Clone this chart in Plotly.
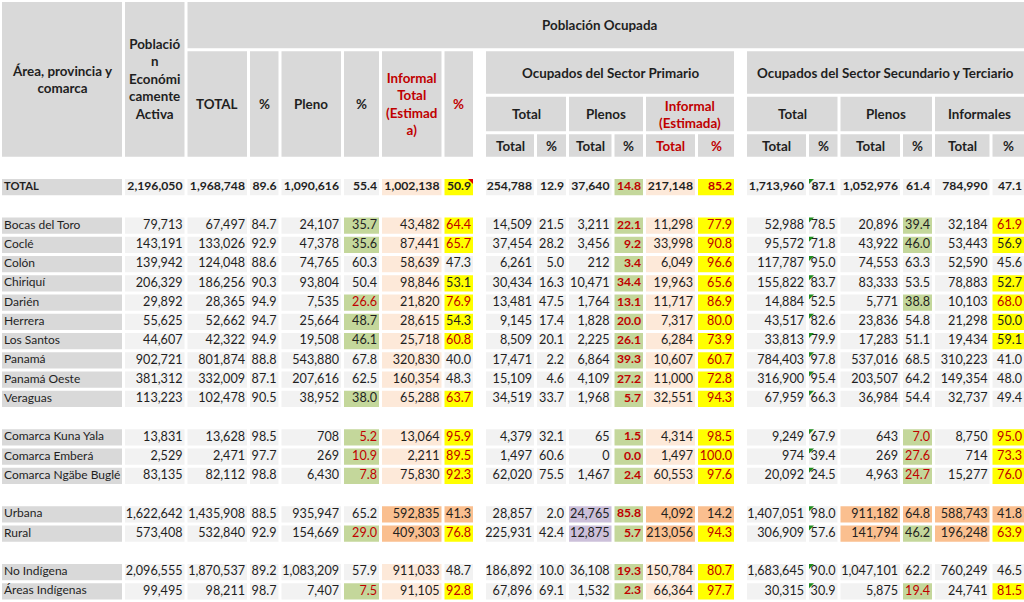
import plotly.graph_objects as go

# Población económicamente activa y ocupada, por área, provincia y comarca
areas = ["TOTAL", "Bocas del Toro", "Coclé", "Colón", "Chiriquí", "Darién", "Herrera",
         "Los Santos", "Panamá", "Panamá Oeste", "Veraguas", "Comarca Kuna Yala",
         "Comarca Emberá", "Comarca Ngäbe Buglé", "Urbana", "Rural", "No Indígena",
         "Áreas Indígenas"]
groups = [1, 10, 3, 2, 2]  # rows per block, a blank row between blocks

pea = [2196050, 79713, 143191, 139942, 206329, 29892, 55625, 44607, 902721, 381312,
       113223, 13831, 2529, 83135, 1622642, 573408, 2096555, 99495]
ocup = [1968748, 67497, 133026, 124048, 186256, 28365, 52662, 42322, 801874, 332009,
        102478, 13628, 2471, 82112, 1435908, 532840, 1870537, 98211]
ocup_pct = [89.6, 84.7, 92.9, 88.6, 90.3, 94.9, 94.7, 94.9, 88.8, 87.1, 90.5, 98.5,
            97.7, 98.8, 88.5, 92.9, 89.2, 98.7]
pleno = [1090616, 24107, 47378, 74765, 93804, 7535, 25664, 19508, 543880, 207616,
         38952, 708, 269, 6430, 935947, 154669, 1083209, 7407]
pleno_pct = [55.4, 35.7, 35.6, 60.3, 50.4, 26.6, 48.7, 46.1, 67.8, 62.5, 38.0, 5.2,
             10.9, 7.8, 65.2, 29.0, 57.9, 7.5]
informal = [1002138, 43482, 87441, 58639, 98846, 21820, 28615, 25718, 320830, 160354,
            65288, 13064, 2211, 75830, 592835, 409303, 911033, 91105]
informal_pct = [50.9, 64.4, 65.7, 47.3, 53.1, 76.9, 54.3, 60.8, 40.0, 48.3, 63.7, 95.9,
                89.5, 92.3, 41.3, 76.8, 48.7, 92.8]

prim = [254788, 14509, 37454, 6261, 30434, 13481, 9145, 8509, 17471, 15109, 34519,
        4379, 1497, 62020, 28857, 225931, 186892, 67896]
prim_pct = [12.9, 21.5, 28.2, 5.0, 16.3, 47.5, 17.4, 20.1, 2.2, 4.6, 33.7, 32.1, 60.6,
            75.5, 2.0, 42.4, 10.0, 69.1]
prim_plenos = [37640, 3211, 3456, 212, 10471, 1764, 1828, 2225, 6864, 4109, 1968, 65,
               0, 1467, 24765, 12875, 36108, 1532]
prim_plenos_pct = [14.8, 22.1, 9.2, 3.4, 34.4, 13.1, 20.0, 26.1, 39.3, 27.2, 5.7, 1.5,
                   0.0, 2.4, 85.8, 5.7, 19.3, 2.3]
prim_inf = [217148, 11298, 33998, 6049, 19963, 11717, 7317, 6284, 10607, 11000, 32551,
            4314, 1497, 60553, 4092, 213056, 150784, 66364]
prim_inf_pct = [85.2, 77.9, 90.8, 96.6, 65.6, 86.9, 80.0, 73.9, 60.7, 72.8, 94.3, 98.5,
                100.0, 97.6, 14.2, 94.3, 80.7, 97.7]

st = [1713960, 52988, 95572, 117787, 155822, 14884, 43517, 33813, 784403, 316900,
      67959, 9249, 974, 20092, 1407051, 306909, 1683645, 30315]
st_pct = [87.1, 78.5, 71.8, 95.0, 83.7, 52.5, 82.6, 79.9, 97.8, 95.4, 66.3, 67.9, 39.4,
          24.5, 98.0, 57.6, 90.0, 30.9]
st_plenos = [1052976, 20896, 43922, 74553, 83333, 5771, 23836, 17283, 537016, 203507,
             36984, 643, 269, 4963, 911182, 141794, 1047101, 5875]
st_plenos_pct = [61.4, 39.4, 46.0, 63.3, 53.5, 38.8, 54.8, 51.1, 68.5, 64.2, 54.4, 7.0,
                 27.6, 24.7, 64.8, 46.2, 62.2, 19.4]
st_inf = [784990, 32184, 53443, 52590, 78883, 10103, 21298, 19434, 310223, 149354,
          32737, 8750, 714, 15277, 588743, 196248, 760249, 24741]
st_inf_pct = [47.1, 61.9, 56.9, 45.6, 52.7, 68.0, 50.0, 59.1, 41.0, 48.0, 49.4, 95.0,
              73.3, 76.0, 41.8, 63.9, 46.5, 81.5]

# ---- look ----
W, H = 1024, 602
FONT = "Lato"
INK = "#1f1f1f"
RED = "#c00000"
LABEL_GREY = "#d9d9d9"
CELL_GREY = "#f2f2f2"
PEACH = "#fde9d9"
ORANGE = "#fabf8f"
GREEN = "#c4d79b"
YELLOW = "#ffff00"
PURPLE = "#ccc0da"
GAP = 1.5  # half of the white gap between cells

# sheet geometry (pixels)
col_widths = [123, 62.5, 62.5, 31.5, 62.5, 38, 62.5, 31.5, 10, 51, 32, 45.5, 31.5,
              52, 39, 10, 62, 31.5, 62.5, 32, 57.5, 40]
head_edges = [0.5, 49.8, 95.2, 132.8, 158.2]
body_top = 177.5
row_h = 19.25

# column order in the sheet (None = label / spacer column)
columns = [None, pea, ocup, ocup_pct, pleno, pleno_pct, informal, informal_pct, None,
           prim, prim_pct, prim_plenos, prim_plenos_pct, prim_inf, prim_inf_pct, None,
           st, st_pct, st_plenos, st_plenos_pct, st_inf, st_inf_pct]
pct_cols = {3, 5, 7, 10, 12, 14, 17, 19, 21}
low_cols = {5, 19}      # green below 50, red text below 30
high_cols = {7, 21}     # yellow from 50, red text above 60
peach_cols = {6, 13}
urb_orange = {6, 7, 13, 14, 18, 19, 20, 21}
rur_orange = {6, 13, 18, 20}
purple_cols = {11}
URB, RUR = areas.index("Urbana"), areas.index("Rural")

rows = []
k = 0
for g, n in enumerate(groups):
    if g:
        rows.append(None)
    rows += list(range(k, k + n))
    k += n

edges = [0.5]
for w in col_widths:
    edges.append(edges[-1] + w)


def cell_style(j, k):
    v = columns[j][k]
    fill, color, bold = CELL_GREY, INK, k == 0
    if j in peach_cols:
        fill = PEACH
    if j in low_cols and v < 50:
        fill = GREEN
        color = RED if v < 30 else INK
    if j in high_cols and v >= 50:
        fill = YELLOW
        color = RED if v > 60 else INK
    if j == 12:
        fill, color, bold = GREEN, RED, True
    if j == 14:
        fill, color = YELLOW, RED
    if (k == URB and j in urb_orange) or (k == RUR and j in rur_orange):
        fill, color = ORANGE, INK
    if k in (URB, RUR) and j in purple_cols:
        fill = PURPLE
    return fill, color, bold


shapes, annotations = [], []


def rect(x0, x1, y0, y1, color):
    shapes.append(dict(type="rect", xref="x", yref="y", x0=x0, x1=x1, y0=y0, y1=y1,
                       fillcolor=color, line_width=0, layer="below"))


num_x, num_y, num_t, num_c, num_s = [], [], [], [], []
lab_x, lab_y, lab_t, lab_s = [], [], [], []
for r, k in enumerate(rows):
    if k is None:
        continue
    top = body_top + r * row_h
    y0, y1 = top + GAP, top + row_h - GAP
    yc = (y0 + y1) / 2
    rect(edges[0] + GAP, edges[1] - GAP, y0, y1, LABEL_GREY)
    lab_x.append(edges[0] + GAP + 2)
    lab_y.append(yc)
    lab_t.append("<b>TOTAL</b>" if k == 0 else areas[k])
    lab_s.append(11.2 if k == 0 else 12.0)
    for j, col in enumerate(columns):
        if col is None:
            continue
        fill, color, bold = cell_style(j, k)
        rect(edges[j] + GAP, min(edges[j + 1] - GAP, W), y0, y1, fill)
        v = col[k]
        txt = f"{v:.1f}" if j in pct_cols else f"{v:,}"
        num_x.append(min(edges[j + 1] - GAP, W) - 2)
        num_y.append(yc)
        num_t.append(f"<b>{txt}</b>" if bold else txt)
        num_c.append(color)
        num_s.append(12.2 if bold else 12.6)
    # Excel cell markers: green error flags on the % column, red comment flag on TOTAL
    xl = edges[17] + GAP
    shapes.append(dict(type="path", xref="x", yref="y", line_width=0,
                       fillcolor="#1e8c1e",
                       path=f"M {xl},{y0} L {xl + 5},{y0} L {xl},{y0 + 5} Z"))
    if k == 0:
        xr = edges[8] - GAP
        shapes.append(dict(type="path", xref="x", yref="y", line_width=0,
                           fillcolor="#e00000",
                           path=f"M {xr},{y0} L {xr - 5},{y0} L {xr},{y0 + 5} Z"))

fig = go.Figure()
fig.add_trace(go.Scatter(x=num_x, y=num_y, text=num_t, mode="text",
                         textposition="middle left", hoverinfo="skip",
                         textfont=dict(family=FONT, size=num_s, color=num_c)))
fig.add_trace(go.Scatter(x=lab_x, y=lab_y, text=lab_t, mode="text",
                         textposition="middle right", hoverinfo="skip",
                         textfont=dict(family=FONT, size=lab_s, color=INK)))

# ---- merged header cells ----
head_cells = [
    (0, 1, 0, 4, "Área, provincia y<br>comarca", INK),
    (1, 2, 0, 4, "Població<br>n<br>Económi<br>camente<br>Activa", INK),
    (2, 22, 0, 1, "Población Ocupada", INK),
    (2, 3, 1, 4, "TOTAL", INK), (3, 4, 1, 4, "%", INK),
    (4, 5, 1, 4, "Pleno", INK), (5, 6, 1, 4, "%", INK),
    (6, 7, 1, 4, "Informal<br>Total<br>(Estimad<br>a)", RED), (7, 8, 1, 4, "%", RED),
    (9, 15, 1, 2, "Ocupados del Sector Primario", INK),
    (9, 11, 2, 3, "Total", INK), (11, 13, 2, 3, "Plenos", INK),
    (13, 15, 2, 3, "Informal<br>(Estimada)", RED),
    (9, 10, 3, 4, "Total", INK), (10, 11, 3, 4, "%", INK),
    (11, 12, 3, 4, "Total", INK), (12, 13, 3, 4, "%", INK),
    (13, 14, 3, 4, "Total", RED), (14, 15, 3, 4, "%", RED),
    (16, 22, 1, 2, "Ocupados del Sector Secundario y Terciario", INK),
    (16, 18, 2, 3, "Total", INK), (18, 20, 2, 3, "Plenos", INK),
    (20, 22, 2, 3, "Informales", INK),
    (16, 17, 3, 4, "Total", INK), (17, 18, 3, 4, "%", INK),
    (18, 19, 3, 4, "Total", INK), (19, 20, 3, 4, "%", INK),
    (20, 21, 3, 4, "Total", INK), (21, 22, 3, 4, "%", INK),
]
for c0, c1, r0, r1, text, color in head_cells:
    x0, x1 = edges[c0] + GAP, min(edges[c1] - GAP, W)
    y0, y1 = head_edges[r0] + GAP, head_edges[r1] - GAP
    rect(x0, x1, y0, y1, LABEL_GREY)
    annotations.append(dict(xref="x", yref="y", x=(x0 + x1) / 2, y=(y0 + y1) / 2,
                            text=f"<b>{text}</b>", showarrow=False,
                            xshift=-6 if text == "Población Ocupada" else 0,
                            xanchor="center", yanchor="middle", align="center",
                            font=dict(family=FONT, size=13.4, color=color)))

fig.update_layout(width=W, height=H, margin=dict(l=0, r=0, t=0, b=0),
                  paper_bgcolor="white", plot_bgcolor="white", showlegend=False,
                  xaxis=dict(range=[0, W], visible=False, fixedrange=True),
                  yaxis=dict(range=[H, 0], visible=False, fixedrange=True),
                  shapes=shapes, annotations=annotations,
                  font=dict(family=FONT, color=INK))

fig.write_html("out.html", config={"displayModeBar": False},
               post_script="document.body.style.margin = '0';")
